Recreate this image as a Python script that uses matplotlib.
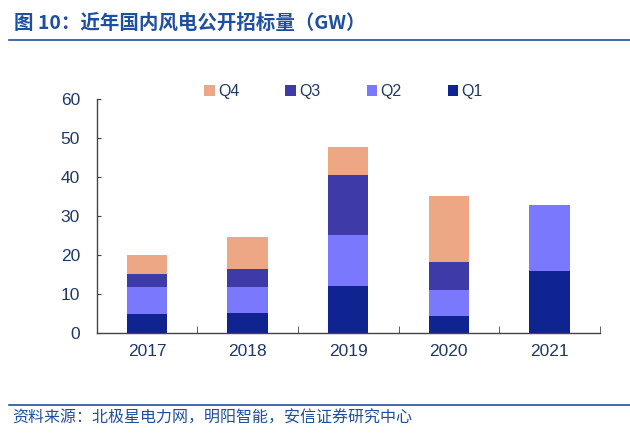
import matplotlib.pyplot as plt
import numpy as np

plt.rcParams['font.family'] = ['Liberation Sans', 'Noto Sans CJK SC', 'DejaVu Sans']

years = ['2017', '2018', '2019', '2020', '2021']
q1 = [4.8, 5.1, 12.0, 4.3, 15.8]
q2 = [6.9, 6.6, 13.2, 6.6, 17.1]
q3 = [3.5, 4.7, 15.3, 7.4, 0.0]
q4 = [4.9, 8.1, 7.3, 16.8, 0.0]

colors = {'Q1': '#0F2391', 'Q2': '#7A78FC', 'Q3': '#3E3AA8', 'Q4': '#EDA784'}
text_col = '#1F3864'
blue = '#1F4FA0'

fig = plt.figure(figsize=(6.3, 4.33), dpi=100)
ax = fig.add_axes([0.1535, 0.2316, 0.7985, 0.5391])

x = np.arange(len(years))
w = 0.4
b = np.zeros(len(years))
handles = {}
for name, vals in [('Q1', q1), ('Q2', q2), ('Q3', q3), ('Q4', q4)]:
    vals = np.array(vals)
    handles[name] = ax.bar(x, vals, w, bottom=b, color=colors[name], label=name)
    b += vals

ax.set_xlim(-0.5, len(years) - 0.5)
ax.set_ylim(0, 60)
ax.set_yticks(range(0, 61, 10))
ax.set_xticks(x)
ax.set_xticklabels(years)
ax.set_xticks(np.arange(0.5, len(years) - 0.5 + 0.01, 1.0), minor=True)
ax.tick_params(axis='x', which='major', length=0, pad=8, labelsize=12.5, labelcolor=text_col)
ax.tick_params(axis='x', which='minor', direction='in', length=5, color='#444444')
ax.tick_params(axis='y', direction='in', length=3, labelsize=12.5, labelcolor=text_col,
               color='#444444', pad=12)
for s in ['top', 'right']:
    ax.spines[s].set_visible(False)
for s in ['left', 'bottom']:
    ax.spines[s].set_color('#444444')
    ax.spines[s].set_linewidth(1.0)

order = ['Q4', 'Q3', 'Q2', 'Q1']
fig.legend([handles[k] for k in order], order, loc='center', ncol=4,
           bbox_to_anchor=(0.545, 0.788), frameon=False, fontsize=11.5,
           handlelength=0.65, handleheight=0.65, handletextpad=0.2,
           columnspacing=2.9, labelcolor=text_col)

fig.text(0.022, 0.947, '图 10：近年国内风电公开招标量（GW）', fontsize=14, fontweight='bold',
         color=blue, va='center', family=['Noto Sans CJK SC', 'DejaVu Sans'])
fig.add_artist(plt.Line2D([0.015, 1.0], [0.907, 0.907], color=blue, lw=1.2))
fig.add_artist(plt.Line2D([0.015, 1.0], [0.064, 0.064], color=blue, lw=1.2))
fig.text(0.02, 0.035, '资料来源：北极星电力网，明阳智能，安信证券研究中心', fontsize=11.5,
         color=blue, style='italic', va='center',
         family=['Noto Sans CJK SC', 'DejaVu Sans'])

fig.savefig('out.png', dpi=100)
